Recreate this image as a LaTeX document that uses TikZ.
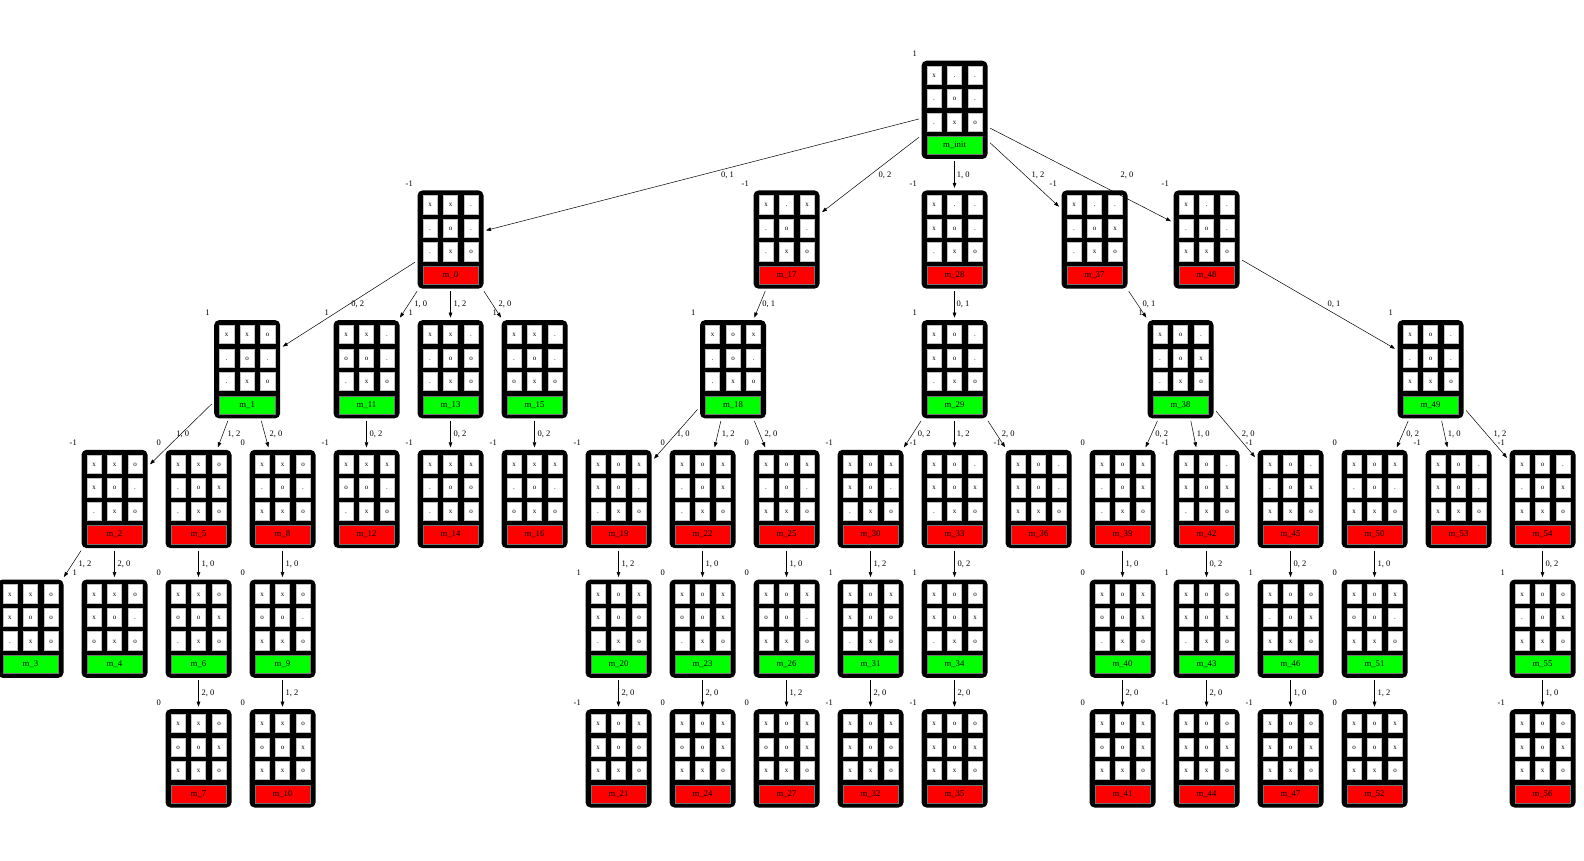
\documentclass[tikz,border=0pt]{standalone}
\usepackage{fontspec}
\setmainfont{Liberation Serif}
\usetikzlibrary{arrows.meta}
\definecolor{tgreen}{RGB}{0,255,0}
\definecolor{tred}{RGB}{255,0,0}
\tikzset{
  boardbox/.style={rectangle, rounded corners=5pt, fill=black, minimum width=66pt, minimum height=98.3pt, inner sep=0pt, outer sep=2.5pt},
  cellbox/.style={rectangle, fill=white, draw=black!25, line width=0.4pt, minimum width=14.3pt, minimum height=18.3pt, inner sep=0pt, text height=1ex, text depth=0pt, font=\fontsize{7}{8}\selectfont},
  barbox/.style={rectangle, draw=black!55, line width=0.4pt, minimum width=55.3pt, minimum height=18.4pt, inner sep=0pt, text height=1ex, text depth=0pt, font=\fontsize{8.75}{10}\selectfont},
  scorelab/.style={anchor=base east, inner sep=0pt, font=\fontsize{8.5}{10}\selectfont},
  elab/.style={anchor=base, inner sep=0pt, font=\fontsize{8.5}{10}\selectfont},
  conn/.style={line width=0.5pt, -{Triangle[length=5pt,width=3.6pt]}},
}
\newcommand{\tttnode}[6]{%
  \pgfmathsetmacro\tp{60.7+129.7*(#3-1)}%
  \ifodd#3 \def\bc{tgreen}\else\def\bc{tred}\fi
  \node[boardbox] (#1) at (#2,\tp+49.15) {};
  \foreach \cv [count=\ci from 0] in {#4} {%
    \pgfmathtruncatemacro\rr{\ci/3}%
    \pgfmathtruncatemacro\cc{\ci-3*\rr}%
    \node[cellbox] (#1-\ci) at (#2-20.5+20.5*\cc,\tp+14.25+23.5*\rr) {\cv};
  }
  \node[barbox, fill=\bc] (#1-l) at (#2,\tp+84.8) {m\_#5};
  \if\relax\detokenize{#6}\relax\else
    \node[scorelab] (#1-s) at (#2-37.5,\tp-4.2) {#6};
  \fi
}
\newcommand{\conn}[5]{%
  \draw[conn] (#1) -- (#2);
  \pgfmathsetmacro\ly{60.7+129.7*(#5-1)-13.3}%
  \node[elab] (#1-#2) at (#4,\ly) {#3};
}
\begin{document}
\begin{tikzpicture}[x=1pt,y=-1pt]
\useasboundingbox (0,0) rectangle (1584,861);
\fill[white] (0,0) rectangle (1584,861);
% row 1
\tttnode{mi}{954.5}{1}{x,.,.,.,o,.,.,x,o}{init}{1}
% row 2
\tttnode{m0}{450.5}{2}{x,x,.,.,o,.,.,x,o}{0}{-1}
\tttnode{m17}{786.5}{2}{x,.,x,.,o,.,.,x,o}{17}{-1}
\tttnode{m28}{954.5}{2}{x,.,.,x,o,.,.,x,o}{28}{-1}
\tttnode{m37}{1094.5}{2}{x,.,.,.,o,x,.,x,o}{37}{-1}
\tttnode{m48}{1206.5}{2}{x,.,.,.,o,.,x,x,o}{48}{-1}
% row 3
\tttnode{m1}{247.2}{3}{x,x,o,.,o,.,.,x,o}{1}{1}
\tttnode{m11}{366.5}{3}{x,x,.,o,o,.,.,x,o}{11}{1}
\tttnode{m13}{450.5}{3}{x,x,.,.,o,o,.,x,o}{13}{1}
\tttnode{m15}{534.5}{3}{x,x,.,.,o,.,o,x,o}{15}{1}
\tttnode{m18}{733}{3}{x,o,x,.,o,.,.,x,o}{18}{1}
\tttnode{m29}{954.5}{3}{x,o,.,x,o,.,.,x,o}{29}{1}
\tttnode{m38}{1180.5}{3}{x,o,.,.,o,x,.,x,o}{38}{1}
\tttnode{m49}{1430.5}{3}{x,o,.,.,o,.,x,x,o}{49}{1}
% row 4
\tttnode{m2}{114.5}{4}{x,x,o,x,o,.,.,x,o}{2}{-1}
\tttnode{m5}{198.5}{4}{x,x,o,.,o,x,.,x,o}{5}{0}
\tttnode{m8}{282.5}{4}{x,x,o,.,o,.,x,x,o}{8}{0}
\tttnode{m12}{366.5}{4}{x,x,x,o,o,.,.,x,o}{12}{-1}
\tttnode{m14}{450.5}{4}{x,x,x,.,o,o,.,x,o}{14}{-1}
\tttnode{m16}{534.5}{4}{x,x,x,.,o,.,o,x,o}{16}{-1}
\tttnode{m19}{618.5}{4}{x,o,x,x,o,.,.,x,o}{19}{-1}
\tttnode{m22}{702.5}{4}{x,o,x,.,o,x,.,x,o}{22}{0}
\tttnode{m25}{786.5}{4}{x,o,x,.,o,.,x,x,o}{25}{0}
\tttnode{m30}{870.5}{4}{x,o,x,x,o,.,.,x,o}{30}{-1}
\tttnode{m33}{954.5}{4}{x,o,.,x,o,x,.,x,o}{33}{-1}
\tttnode{m36}{1038.5}{4}{x,o,.,x,o,.,x,x,o}{36}{-1}
\tttnode{m39}{1122.5}{4}{x,o,x,.,o,x,.,x,o}{39}{0}
\tttnode{m42}{1206.5}{4}{x,o,.,x,o,x,.,x,o}{42}{-1}
\tttnode{m45}{1290.5}{4}{x,o,.,.,o,x,x,x,o}{45}{-1}
\tttnode{m50}{1374.5}{4}{x,o,x,.,o,.,x,x,o}{50}{0}
\tttnode{m53}{1458.5}{4}{x,o,.,x,o,.,x,x,o}{53}{-1}
\tttnode{m54}{1542.5}{4}{x,o,.,.,o,x,x,x,o}{54}{-1}
% row 5
\tttnode{m3}{30.5}{5}{x,x,o,x,o,o,.,x,o}{3}{}
\tttnode{m4}{114.5}{5}{x,x,o,x,o,.,o,x,o}{4}{1}
\tttnode{m6}{198.5}{5}{x,x,o,o,o,x,.,x,o}{6}{0}
\tttnode{m9}{282.5}{5}{x,x,o,o,o,.,x,x,o}{9}{0}
\tttnode{m20}{618.5}{5}{x,o,x,x,o,o,.,x,o}{20}{1}
\tttnode{m23}{702.5}{5}{x,o,x,o,o,x,.,x,o}{23}{0}
\tttnode{m26}{786.5}{5}{x,o,x,o,o,.,x,x,o}{26}{0}
\tttnode{m31}{870.5}{5}{x,o,x,x,o,o,.,x,o}{31}{1}
\tttnode{m34}{954.5}{5}{x,o,o,x,o,x,.,x,o}{34}{1}
\tttnode{m40}{1122.5}{5}{x,o,x,o,o,x,.,x,o}{40}{0}
\tttnode{m43}{1206.5}{5}{x,o,o,x,o,x,.,x,o}{43}{1}
\tttnode{m46}{1290.5}{5}{x,o,o,.,o,x,x,x,o}{46}{1}
\tttnode{m51}{1374.5}{5}{x,o,x,o,o,.,x,x,o}{51}{0}
\tttnode{m55}{1542.5}{5}{x,o,o,.,o,x,x,x,o}{55}{1}
% row 6
\tttnode{m7}{198.5}{6}{x,x,o,o,o,x,x,x,o}{7}{0}
\tttnode{m10}{282.5}{6}{x,x,o,o,o,x,x,x,o}{10}{0}
\tttnode{m21}{618.5}{6}{x,o,x,x,o,o,x,x,o}{21}{-1}
\tttnode{m24}{702.5}{6}{x,o,x,o,o,x,x,x,o}{24}{0}
\tttnode{m27}{786.5}{6}{x,o,x,o,o,x,x,x,o}{27}{0}
\tttnode{m32}{870.5}{6}{x,o,x,x,o,o,x,x,o}{32}{-1}
\tttnode{m35}{954.5}{6}{x,o,o,x,o,x,x,x,o}{35}{-1}
\tttnode{m41}{1122.5}{6}{x,o,x,o,o,x,x,x,o}{41}{0}
\tttnode{m44}{1206.5}{6}{x,o,o,x,o,x,x,x,o}{44}{-1}
\tttnode{m47}{1290.5}{6}{x,o,o,x,o,x,x,x,o}{47}{-1}
\tttnode{m52}{1374.5}{6}{x,o,x,o,o,x,x,x,o}{52}{0}
\tttnode{m56}{1542.5}{6}{x,o,o,x,o,x,x,x,o}{56}{-1}
% edges 1 -> 2
\conn{mi}{m0}{0, 1}{727.6}{2}
\conn{mi}{m17}{0, 2}{885}{2}
\conn{mi}{m28}{1, 0}{963.2}{2}
\conn{mi}{m37}{1, 2}{1038}{2}
\conn{mi}{m48}{2, 0}{1127}{2}
% edges 2 -> 3
\conn{m0}{m1}{0, 2}{357.7}{3}
\conn{m0}{m11}{1, 0}{420.7}{3}
\conn{m0}{m13}{1, 2}{460}{3}
\conn{m0}{m15}{2, 0}{505}{3}
\conn{m17}{m18}{0, 1}{768.7}{3}
\conn{m28}{m29}{0, 1}{963}{3}
\conn{m37}{m38}{0, 1}{1149}{3}
\conn{m48}{m49}{0, 1}{1334}{3}
% edges 3 -> 4
\conn{m1}{m2}{1, 0}{182.7}{4}
\conn{m1}{m5}{1, 2}{234}{4}
\conn{m1}{m8}{2, 0}{276}{4}
\conn{m11}{m12}{0, 2}{376}{4}
\conn{m13}{m14}{0, 2}{460}{4}
\conn{m15}{m16}{0, 2}{544}{4}
\conn{m18}{m19}{1, 0}{683.3}{4}
\conn{m18}{m22}{1, 2}{728.3}{4}
\conn{m18}{m25}{2, 0}{771}{4}
\conn{m29}{m30}{0, 2}{924.3}{4}
\conn{m29}{m33}{1, 2}{963.3}{4}
\conn{m29}{m36}{2, 0}{1008.3}{4}
\conn{m38}{m39}{0, 2}{1161.7}{4}
\conn{m38}{m42}{1, 0}{1203.3}{4}
\conn{m38}{m45}{2, 0}{1248.3}{4}
\conn{m49}{m50}{0, 2}{1412.7}{4}
\conn{m49}{m53}{1, 0}{1454.3}{4}
\conn{m49}{m54}{1, 2}{1500}{4}
% edges 4 -> 5
\conn{m2}{m3}{1, 2}{85}{5}
\conn{m2}{m4}{2, 0}{124}{5}
\conn{m5}{m6}{1, 0}{208}{5}
\conn{m8}{m9}{1, 0}{292}{5}
\conn{m19}{m20}{1, 2}{628}{5}
\conn{m22}{m23}{1, 0}{712}{5}
\conn{m25}{m26}{1, 0}{796}{5}
\conn{m30}{m31}{1, 2}{880}{5}
\conn{m33}{m34}{0, 2}{964}{5}
\conn{m39}{m40}{1, 0}{1132}{5}
\conn{m42}{m43}{0, 2}{1216}{5}
\conn{m45}{m46}{0, 2}{1300}{5}
\conn{m50}{m51}{1, 0}{1384}{5}
\conn{m54}{m55}{0, 2}{1552}{5}
% edges 5 -> 6
\conn{m6}{m7}{2, 0}{208}{6}
\conn{m9}{m10}{1, 2}{292}{6}
\conn{m20}{m21}{2, 0}{628}{6}
\conn{m23}{m24}{2, 0}{712}{6}
\conn{m26}{m27}{1, 2}{796}{6}
\conn{m31}{m32}{2, 0}{880}{6}
\conn{m34}{m35}{2, 0}{964}{6}
\conn{m40}{m41}{2, 0}{1132}{6}
\conn{m43}{m44}{2, 0}{1216}{6}
\conn{m46}{m47}{1, 0}{1300}{6}
\conn{m51}{m52}{1, 2}{1384}{6}
\conn{m55}{m56}{1, 0}{1552}{6}
\end{tikzpicture}
\end{document}
